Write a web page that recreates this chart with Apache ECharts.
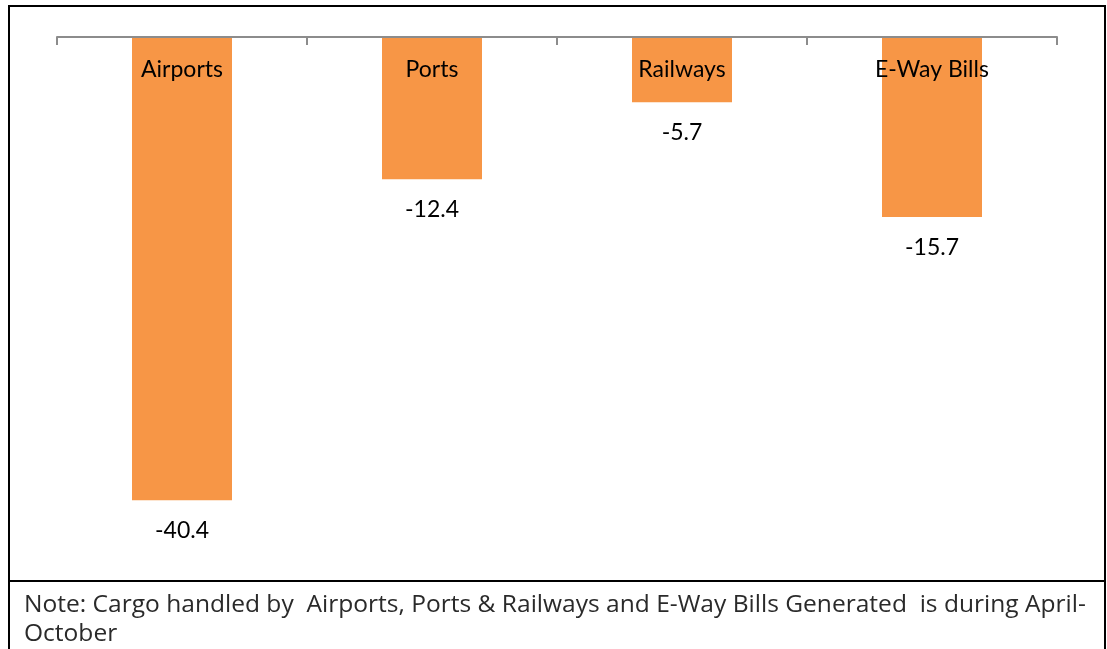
<!DOCTYPE html>
<html>
<head>
<meta charset="utf-8">
<script src="https://cdn.jsdelivr.net/npm/echarts@6/dist/echarts.min.js"></script>
<style>
    body{
        margin: 0;
        background: #fff;
    }
    .page{
        position: relative;
        width: 1107px;
        height: 649px;
        overflow: hidden;
    }
    .frame{
        position: absolute;
        left: 8px;
        top: 5px;
        width: 1094px;
        height: 660px;
        border: 2px solid #000;
    }
    .divider{
        position: absolute;
        left: 8px;
        top: 580px;
        width: 1096px;
        height: 2px;
        background: #000;
    }
    #chart{
        position: absolute;
        left: 0;
        top: 0;
        width: 1107px;
        height: 578px;
    }
    .note{
        position: absolute;
        left: 24px;
        font-family: "Open Sans", sans-serif;
        font-size: 23px;
        color: #2a2a2a;
        white-space: pre;
        transform-origin: 0 0;
    }
    .line1{
        top: 587px;
    }
    .line2{
        top: 616px;
    }
</style>
</head>
<body>
<div class="page">
    <div id="chart"></div>
    <div class="frame"></div>
    <div class="divider"></div>
    <div class="note line1" id="note1">Note: Cargo handled by  Airports, Ports &amp; Railways and E-Way Bills Generated  is during April-</div>
    <div class="note line2" id="note2">October</div>
</div>
<script>
    // values
    const categories = ['Airports', 'Ports', 'Railways', 'E-Way Bills'];
    const growth = [-40.4, -12.4, -5.7, -15.7];

    // squeeze the note so its first line spans the box like the original
    const note1 = document.getElementById('note1');
    const note2 = document.getElementById('note2');
    const squeeze = 1062 / note1.offsetWidth;
    note1.style.transform = 'scaleX(' + squeeze + ')';
    note2.style.transform = 'scaleX(' + squeeze + ')';

    const chart = echarts.init(document.getElementById('chart'));
    const option = {
        animation: false,
        grid: {
            left: 57,
            right: 50,
            top: 37,
            height: 516
        },
        xAxis: {
            type: 'category',
            position: 'top',
            data: categories,
            axisLine: {
                lineStyle: {color: '#8c8c8c', width: 2}
            },
            axisTick: {
                show: true,
                inside: true,
                length: 8,
                lineStyle: {color: '#8c8c8c', width: 2}
            },
            axisLabel: {
                inside: true,
                margin: 21,
                color: '#000',
                fontFamily: 'Lato',
                fontSize: 23
            },
            z: 10
        },
        yAxis: {
            type: 'value',
            min: -45,
            max: 0,
            show: false,
            splitLine: {show: false}
        },
        series: [{
            type: 'bar',
            data: growth,
            barWidth: '40%',
            itemStyle: {color: '#f79646'},
            label: {
                show: true,
                position: 'bottom',
                distance: 19,
                color: '#000',
                fontFamily: 'Lato',
                fontSize: 23
            }
        }]
    };
    chart.setOption(option);
</script>
</body>
</html>
